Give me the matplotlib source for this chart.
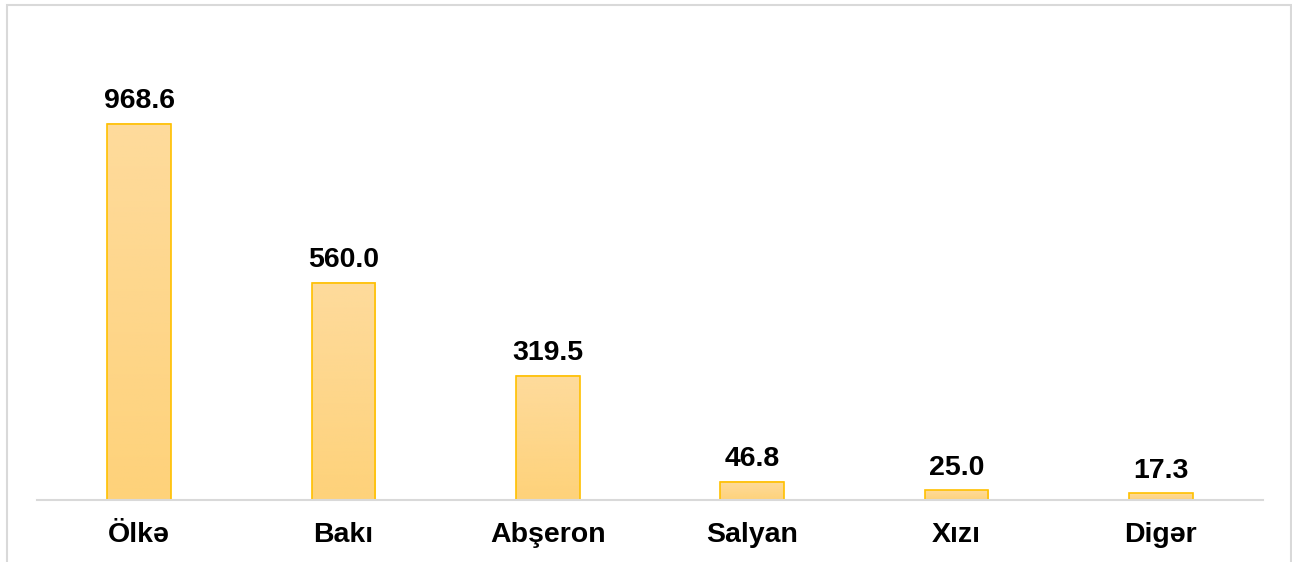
import numpy as np
import matplotlib
matplotlib.use('Agg')
from matplotlib import pyplot as plt
from matplotlib.patches import Rectangle
from matplotlib.colors import LinearSegmentedColormap

# data
categories = ['Ölkə', 'Bakı', 'Abşeron', 'Salyan', 'Xızı', 'Digər']
values = [968.6, 560.0, 319.5, 46.8, 25.0, 17.3]

plt.rcParams['font.family'] = ['Liberation Sans', 'DejaVu Sans']

W, H = 1292, 562
fig = plt.figure(figsize=(W / 100, H / 100), dpi=100)
ax = fig.add_axes([37 / W, (H - 500) / H, (1263 - 37) / W, 480 / H])

# outer frame (bottom edge falls outside the picture)
fig.patches.append(Rectangle((7 / W, -0.05), (1291 - 7) / W, (H - 5) / H + 0.05,
                             transform=fig.transFigure, fill=False,
                             edgecolor='#d9d9d9', linewidth=1.5))

x = np.arange(len(categories))
width = 0.313
bars = ax.bar(x, values, width, color='none', edgecolor='#ffc000', linewidth=1.2, zorder=3)

# vertical gradient inside each bar
cmap = LinearSegmentedColormap.from_list('grad', ['#fed27a', '#fedb9c'])
grad = np.linspace(0, 1, 256).reshape(-1, 1)
for b in bars:
    ax.imshow(grad, cmap=cmap, origin='lower', aspect='auto', zorder=2,
              extent=[b.get_x(), b.get_x() + b.get_width(), 0, b.get_height()])

for xi, v in zip(x, values):
    ax.annotate('{:.1f}'.format(v), (xi, v), xytext=(0, 7), textcoords='offset points',
                ha='center', va='bottom', fontsize=20.5, fontweight='bold', color='black')

ax.set_xlim(-0.5, len(categories) - 0.5)
ax.set_ylim(0, 1236)
ax.set_xticks(x)
ax.set_xticklabels(categories, fontsize=20.5, fontweight='bold')
ax.tick_params(axis='x', length=0, pad=16)
ax.set_yticks([])
for s in ['top', 'right', 'left']:
    ax.spines[s].set_visible(False)
ax.spines['bottom'].set_color('#d9d9d9')
ax.spines['bottom'].set_linewidth(1.5)
ax.spines['bottom'].set_zorder(4)

fig.savefig('out.png', dpi=100)
